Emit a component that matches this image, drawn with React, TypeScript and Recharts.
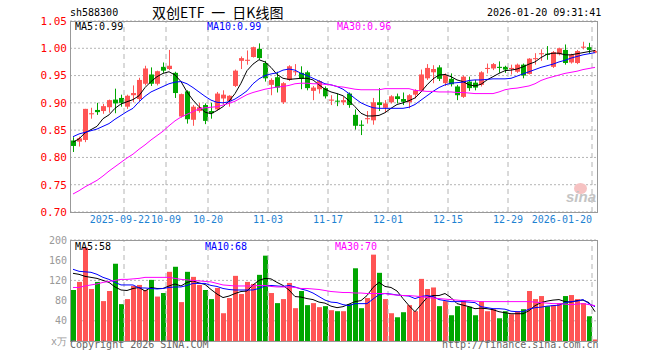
import { ComposedChart, Bar, Line, XAxis, YAxis, CartesianGrid, ReferenceLine } from 'recharts'

// ── data ─────────────────────────────────────────────────────────────────────

const dates = [
  '2025-09-09', '2025-09-10', '2025-09-11', '2025-09-12', '2025-09-15', '2025-09-16', '2025-09-17', '2025-09-18',
  '2025-09-19', '2025-09-22', '2025-09-23', '2025-09-24', '2025-09-25', '2025-09-26', '2025-09-29', '2025-09-30',
  '2025-10-09', '2025-10-10', '2025-10-13', '2025-10-14', '2025-10-15', '2025-10-16', '2025-10-17', '2025-10-20',
  '2025-10-21', '2025-10-22', '2025-10-23', '2025-10-24', '2025-10-27', '2025-10-28', '2025-10-29', '2025-10-30',
  '2025-10-31', '2025-11-03', '2025-11-04', '2025-11-05', '2025-11-06', '2025-11-07', '2025-11-10', '2025-11-11',
  '2025-11-12', '2025-11-13', '2025-11-14', '2025-11-17', '2025-11-18', '2025-11-19', '2025-11-20', '2025-11-21',
  '2025-11-24', '2025-11-25', '2025-11-26', '2025-11-27', '2025-11-28', '2025-12-01', '2025-12-02', '2025-12-03',
  '2025-12-04', '2025-12-05', '2025-12-08', '2025-12-09', '2025-12-10', '2025-12-11', '2025-12-12', '2025-12-15',
  '2025-12-16', '2025-12-17', '2025-12-18', '2025-12-19', '2025-12-22', '2025-12-23', '2025-12-24', '2025-12-25',
  '2025-12-26', '2025-12-29', '2025-12-30', '2025-12-31', '2026-01-05', '2026-01-06', '2026-01-07', '2026-01-08',
  '2026-01-09', '2026-01-12', '2026-01-13', '2026-01-14', '2026-01-15', '2026-01-16', '2026-01-19', '2026-01-20',
]

const opens = [
  .831, .829, .832, .879, .887, .885, .892, .906, .909, .893, .914, .907, .935, .952, .935, .966, .962, .955, .875, .921, .869, .885,
  .896, .885, .888, .908, .903, .931, .977, .977, .984, .999, .973, .933, .947, .901, .942, .956, .955, .956, .922, .925, .927, .904,
  .904, .901, .917, .878, .860, .870, .868, .901, .891, .901, .912, .907, .901, .915, .922, .945, .956, .965, .936, .944, .930, .911,
  .939, .937, .933, .962, .963, .966, .966, .962, .957, .970, .953, .980, .989, .990, .966, .989, .997, .974, .973, 1.001, 1.002, .992,
]
const highs = [
  .837, .838, .889, .891, .900, .898, .906, .926, .915, .915, .932, .946, .968, .965, .959, .974, .997, .957, .917, .923, .896, .900,
  .899, .900, .920, .923, .914, .961, .985, .996, 1.003, 1.009, .977, .945, .957, .938, .969, .971, .967, .959, .931, .942, .930, .914,
  .917, .911, .919, .888, .868, .885, .909, .927, .905, .914, .917, .919, .916, .925, .961, .971, .969, .969, .954, .954, .933, .950,
  .948, .942, .958, .972, .973, .976, .968, .970, .972, .972, .982, .991, .998, 1.004, .995, 1.001, 1.007, .990, .997, 1.012, 1.010, .997,
]
const lows = [
  .810, .820, .828, .871, .878, .880, .882, .881, .893, .889, .901, .903, .932, .931, .932, .955, .960, .909, .873, .862, .858, .882,
  .861, .871, .886, .897, .893, .929, .962, .970, .983, .979, .939, .914, .919, .898, .940, .951, .925, .923, .905, .917, .908, .896,
  .894, .896, .891, .851, .841, .862, .860, .885, .883, .899, .899, .896, .890, .908, .920, .942, .936, .940, .931, .930, .905, .909,
  .922, .923, .930, .954, .960, .955, .955, .952, .955, .945, .952, .970, .977, .979, .964, .987, .970, .972, .971, .998, .990, .991,
]
const closes = [
  .821, .835, .889, .881, .883, .894, .905, .899, .900, .913, .918, .942, .963, .935, .958, .959, .968, .918, .916, .870, .893, .892,
  .867, .881, .917, .915, .913, .959, .982, .979, 1.002, .982, .945, .942, .928, .936, .967, .958, .944, .927, .928, .940, .912, .906,
  .903, .905, .896, .858, .858, .872, .901, .896, .899, .912, .907, .902, .914, .923, .952, .964, .962, .944, .951, .934, .914, .948,
  .927, .928, .956, .964, .971, .964, .961, .964, .970, .950, .981, .982, .991, .988, .993, 1.000, .973, .988, .995, 1.003, .997, .995,
]

const ma5 = [
  .828, .834, .845, .851, .857, .871, .878, .890, .898, .902, .906, .913, .928, .939, .948, .954, .957, .951, .939, .920, .905, .893,
  .883, .880, .886, .893, .903, .917, .936, .959, .971, .979, .975, .965, .952, .945, .943, .944, .945, .945, .942, .933, .925, .920,
  .917, .913, .904, .893, .881, .876, .876, .877, .882, .890, .897, .900, .904, .909, .920, .933, .944, .951, .952, .948, .942, .939,
  .933, .931, .934, .942, .948, .954, .959, .960, .962, .966, .971, .975, .983, .989, .991, .991, .988, .988, .990, .992, .994, .996,
]
const ma10 = [
  .838, .843, .846, .849, .852, .857, .862, .870, .877, .884, .890, .902, .912, .920, .925, .930, .935, .938, .939, .935, .928, .920,
  .912, .905, .901, .900, .902, .907, .914, .922, .935, .944, .950, .953, .955, .960, .962, .960, .954, .950, .945, .940, .935, .933,
  .930, .925, .917, .908, .900, .895, .891, .890, .890, .890, .890, .890, .892, .897, .905, .913, .921, .928, .933, .936, .937, .938,
  .941, .942, .942, .943, .944, .944, .944, .945, .949, .953, .957, .961, .965, .968, .971, .975, .978, .982, .985, .988, .990, .992,
]
const ma30 = [
  .733, .739, .746, .752, .758, .766, .775, .783, .791, .799, .806, .815, .823, .832, .840, .848, .858, .867, .874, .879, .884, .889,
  .891, .892, .893, .896, .899, .903, .909, .915, .919, .922, .925, .927, .929, .930, .932, .935, .936, .936, .935, .935, .934, .933,
  .930, .929, .927, .925, .924, .924, .924, .924, .926, .926, .926, .926, .926, .923, .922, .921, .921, .920, .920, .920, .919, .919,
  .918, .917, .917, .917, .917, .920, .924, .926, .927, .929, .931, .935, .941, .945, .948, .951, .954, .956, .958, .961, .963, .965,
]

// volume, 万手
const volumes = [
  101, 117, 185, 103, 117, 79, 99, 153, 73, 83, 109, 111, 101, 121, 88, 95, 137, 147, 77, 137, 127, 111,
  101, 83, 105, 55, 85, 129, 93, 117, 113, 131, 169, 95, 75, 83, 115, 65, 99, 71, 75, 67, 69, 61,
  59, 59, 73, 144, 65, 85, 171, 135, 83, 55, 47, 57, 71, 59, 123, 103, 106, 69, 79, 51, 69, 79,
  68, 51, 79, 59, 63, 45, 59, 53, 59, 63, 99, 83, 89, 69, 71, 75, 89, 91, 83, 75, 49, 3,
]
const volMa5 = [
  134, 132, 128, 126, 124, 120, 116, 107, 101, 100, 104, 106, 99, 106, 104, 104, 109, 113, 109, 116, 119, 115,
  112, 102, 93, 86, 89, 94, 98, 99, 111, 120, 124, 123, 116, 110, 101, 88, 87, 84, 82, 77, 75, 69,
  66, 68, 73, 78, 80, 90, 106, 116, 108, 106, 99, 84, 70, 58, 72, 86, 90, 90, 94, 86, 74, 71,
  68, 64, 65, 64, 62, 58, 56, 54, 54, 54, 60, 70, 76, 79, 81, 82, 78, 77, 80, 81, 76, 58,
]
const volMa10 = [
  142, 138, 137, 136, 132, 126, 122, 116, 111, 111, 111, 105, 105, 104, 103, 104, 106, 107, 107, 110, 114, 114,
  114, 110, 108, 104, 102, 101, 101, 101, 101, 104, 109, 110, 109, 108, 110, 107, 103, 100, 95, 88, 81, 77,
  76, 72, 70, 74, 74, 74, 83, 92, 94, 93, 91, 90, 89, 84, 88, 90, 88, 82, 80, 78, 78, 78,
  77, 76, 68, 66, 64, 64, 63, 59, 58, 58, 63, 66, 67, 69, 70, 71, 76, 78, 79, 82, 74, 68,
]
const volMa30 = [
  106, 106, 109, 111, 113, 116, 118, 120, 122, 122, 123, 124, 126, 126, 126, 126, 126, 124, 122, 121, 120, 119,
  118, 117, 114, 111, 110, 109, 109, 109, 109, 110, 110, 108, 107, 107, 107, 106, 104, 104, 103, 102, 100, 98,
  97, 96, 96, 95, 95, 94, 94, 94, 94, 92, 91, 90, 90, 89, 88, 86, 85, 84, 83, 82, 81, 80,
  80, 79, 78, 78, 78, 78, 78, 78, 78, 78, 78, 77, 76, 75, 74, 74, 73, 72, 73, 74, 72, 70,
]

const gridDates = ['2025-09-22', '2025-10-09', '2025-10-20', '2025-11-03', '2025-11-17', '2025-12-01', '2025-12-15', '2025-12-29', '2026-01-20']
const tickLabels = ['2025-09-22', '10-09', '10-20', '11-03', '11-17', '12-01', '12-15', '12-29', '2026-01-20']
const priceTicks = [0.70, 0.75, 0.80, 0.85, 0.90, 0.95, 1.00, 1.05]
const volTicks = [0, 40, 80, 120, 160, 200]

const rows = dates.map((date, i) => ({
  date,
  open: opens[i], high: highs[i], low: lows[i], close: closes[i],
  ma5: ma5[i], ma10: ma10[i], ma30: ma30[i],
  vol: volumes[i], vma5: volMa5[i], vma10: volMa10[i], vma30: volMa30[i],
}))

// ── styles ───────────────────────────────────────────────────────────────────

const RED = '#ff5454'
const GREEN = '#00a600'
const MONO = '"DejaVu Sans Mono", monospace'
const GRID = '#b4b4b4'

function Candle(props: any) {
  const { x, y, width, height, payload } = props
  const top = Math.min(y, y + height)
  const bot = Math.max(y, y + height)
  const span = payload.high - payload.low
  const k = span > 0 ? (bot - top) / span : 0
  const py = (v: number) => top + (payload.high - v) * k
  const up = payload.close >= payload.open
  const color = up ? RED : GREEN
  const b0 = py(Math.max(payload.open, payload.close))
  const b1 = py(Math.min(payload.open, payload.close))
  const cx = Math.floor(x + width / 2)
  return (
    <g>
      <rect x={cx} y={top} width={1} height={Math.max(bot - top, 1)} fill={color} />
      <rect x={Math.round(x)} y={b0} width={width} height={Math.max(b1 - b0, 1)} fill={color} />
    </g>
  )
}

function VolBar(props: any) {
  const { x, y, width, height, payload } = props
  const color = payload.close >= payload.open ? RED : GREEN
  return <rect x={Math.round(x)} y={y} width={width} height={Math.max(height, 0)} fill={color} />
}

function DateTick({ x, y, payload }: any) {
  const i = gridDates.indexOf(payload.value)
  const first = i === 0
  const last = i === gridDates.length - 1
  // first label is pushed left so it doesn't run into its neighbour
  const tx = first ? x + 23 : x - 3
  return (
    <text x={tx} y={y + 11} textAnchor={first || last ? 'end' : 'middle'} fill="#1e82d2" fontSize={10} fontFamily={MONO}>
      {tickLabels[i]}
    </text>
  )
}

function Label({ left, top, color, children, size = 10, family = MONO, lh = 12 }: any) {
  return (
    <div style={{
      position: 'absolute', left, top, color, fontSize: size, fontFamily: family,
      lineHeight: `${lh}px`, whiteSpace: 'pre'
    }}>{children}</div>
  )
}

export default function App() {
  return (
    <div style={{ position: 'absolute', left: 0, top: 0, width: 660, height: 360, background: '#fff', overflow: 'hidden' }}>
      {/* header */}
      <Label left={70} top={7} color="#000">sh588300</Label>
      <Label left={152} top={5} color="#000" size={14} lh={14} family='"Noto Sans CJK SC", sans-serif'>{'双创ETF\u2002一\u2002日K线图'}</Label>
      <Label left={487} top={7} color="#000">2026-01-20 09:31:41</Label>

      {/* price panel */}
      <div style={{ position: 'absolute', left: 0, top: 0 }}>
        <ComposedChart width={660} height={230} data={rows} margin={{ top: 21, right: 62, bottom: 0, left: 10 }}>
          <CartesianGrid vertical={false} stroke={GRID} strokeDasharray="2 2" />
          <XAxis dataKey="date" height={18} tickLine={false} axisLine={false} ticks={gridDates}
            interval={0} tickSize={0} tickMargin={0} tick={<DateTick />} />
          <YAxis domain={[0.7, 1.05]} ticks={priceTicks} width={60} tickSize={0} tickMargin={3}
            axisLine={false} tickLine={false} allowDataOverflow
            tick={{ fill: '#ff0000', fontSize: 11, fontFamily: MONO }}
            tickFormatter={(v: number) => v.toFixed(2)} />
          {gridDates.map(d => (
            <ReferenceLine key={d} x={d} position="start" stroke={GRID} strokeDasharray="5 4" />
          ))}
          <Bar dataKey={(d: any) => [d.low, d.high]} barSize={5} shape={<Candle />} isAnimationActive={false} />
          <Line dataKey="ma5" stroke="#000000" strokeWidth={1} dot={false} isAnimationActive={false} />
          <Line dataKey="ma10" stroke="#0000ff" strokeWidth={1} dot={false} isAnimationActive={false} />
          <Line dataKey="ma30" stroke="#ff00ff" strokeWidth={1} dot={false} isAnimationActive={false} />
        </ComposedChart>
      </div>
      <div style={{ position: 'absolute', left: 70, top: 21, width: 528, height: 192, boxSizing: 'border-box', border: '1px solid #999' }} />
      <Label left={75} top={21} color="#000">MA5:0.99</Label>
      <Label left={207} top={21} color="#0000ff">MA10:0.99</Label>
      <Label left={337} top={21} color="#ff00ff">MA30:0.96</Label>

      {/* sina watermark */}
      <div style={{ position: 'absolute', left: 574, top: 183, width: 13, height: 11, borderRadius: '50%', background: '#f6c2c2' }} />
      <Label left={566} top={191} color="#c4c4c4" size={15} family='"Liberation Sans", sans-serif'>
        <i><b>sina</b></i>
      </Label>

      {/* volume panel */}
      <div style={{ position: 'absolute', left: 0, top: 230 }}>
        <ComposedChart width={660} height={130} data={rows} margin={{ top: 10, right: 62, bottom: 19, left: 10 }}>
          <CartesianGrid vertical={false} stroke={GRID} strokeDasharray="2 2" />
          <XAxis dataKey="date" hide />
          <YAxis domain={[0, 200]} ticks={volTicks} width={60} tickSize={0} tickMargin={3}
            axisLine={false} tickLine={false}
            tick={{ fill: '#999999', fontSize: 10, fontFamily: MONO }}
            tickFormatter={(v: number) => (v === 0 ? 'x万' : String(v))} />
          {gridDates.map(d => (
            <ReferenceLine key={d} x={d} position="start" stroke={GRID} strokeDasharray="5 4" />
          ))}
          <Bar dataKey="vol" barSize={5} shape={<VolBar />} isAnimationActive={false} />
          <Line dataKey="vma5" stroke="#000000" strokeWidth={1} dot={false} isAnimationActive={false} />
          <Line dataKey="vma10" stroke="#0000ff" strokeWidth={1} dot={false} isAnimationActive={false} />
          <Line dataKey="vma30" stroke="#ff00ff" strokeWidth={1} dot={false} isAnimationActive={false} />
        </ComposedChart>
      </div>
      <div style={{ position: 'absolute', left: 70, top: 240, width: 528, height: 102, boxSizing: 'border-box', border: '1px solid #999' }} />
      <Label left={75} top={241} color="#000">MA5:58</Label>
      <Label left={205} top={241} color="#0000ff">MA10:68</Label>
      <Label left={335} top={241} color="#ff00ff">MA30:70</Label>

      {/* footer */}
      <Label left={70} top={339} color="#666">Copyright 2026 SINA.COM</Label>
      <Label left={442} top={339} color="#666">http://finance.sina.com.cn</Label>
    </div>
  )
}
